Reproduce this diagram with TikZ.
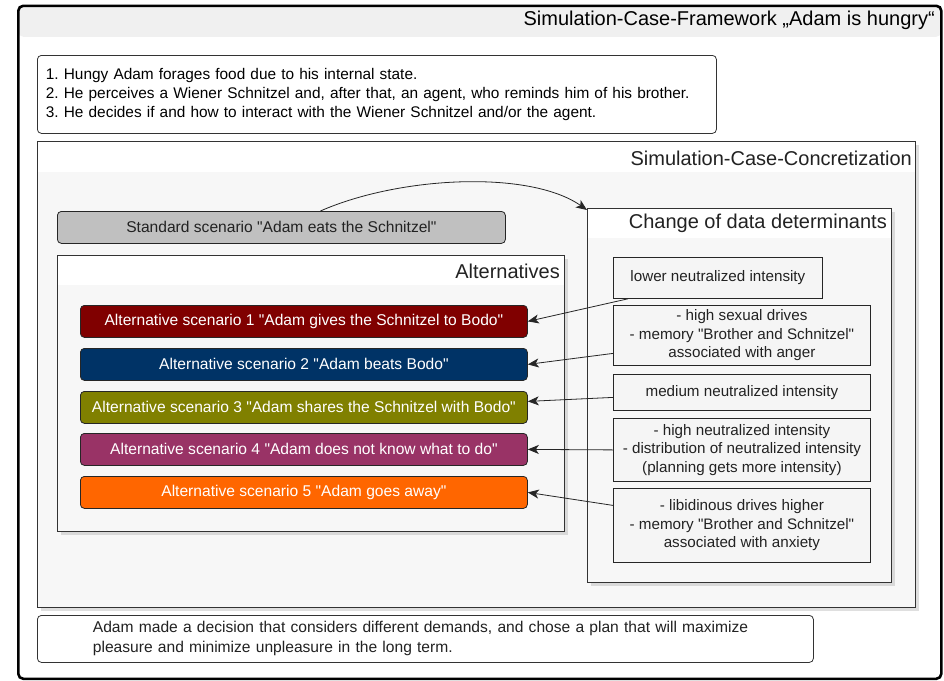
\documentclass[tikz,border=0pt]{standalone}
\usepackage{fontspec}
\setmainfont{Liberation Sans}
\frenchspacing
\usetikzlibrary{positioning,arrows.meta,shadows}
\definecolor{scnred}{HTML}{800000}
\definecolor{scnblue}{HTML}{003366}
\definecolor{scnolive}{HTML}{808000}
\definecolor{scnplum}{HTML}{993366}
\definecolor{scnorange}{HTML}{FF6600}
\definecolor{scngray}{HTML}{C0C0C0}
\definecolor{txt}{HTML}{222222}
\newcommand{\qd}{\textquotedbl}
\tikzset{
  frame/.style    = {draw=black, line width=2.6pt, rounded corners=5pt, anchor=north west, inner sep=0pt,
                     path picture={\fill[black!6] (path picture bounding box.north west) rectangle ([yshift=-31pt]path picture bounding box.north east);}},
  panel/.style    = {draw=black!80, line width=0.8pt, anchor=north west, inner sep=0pt,
                     left color=black!3, middle color=black!14, right color=black!3,
                     drop shadow={opacity=0.25, shadow xshift=4pt, shadow yshift=-4pt},
                     path picture={\fill[white] (path picture bounding box.north west) rectangle ([yshift=-#1]path picture bounding box.north east);}},
  panelhdr/.style = {font=\fontsize{20}{24}\selectfont, text=txt, anchor=east, inner sep=0pt},
  textbox/.style  = {draw=black!80, line width=0.8pt, fill=white, rounded corners=4pt, anchor=north west, inner sep=0pt},
  scenario/.style = {draw=black!85, line width=0.8pt, rounded corners=4pt, fill=#1, text=white, anchor=north west,
                     minimum width=447pt, minimum height=32pt, inner sep=0pt, font=\fontsize{15.6}{18}\selectfont},
  determ/.style   = {draw=black!85, line width=0.8pt, anchor=north west, inner sep=0pt, align=center, text=txt,
                     left color=black!4, middle color=black!12, right color=black!4,
                     font=\fontsize{15.2}{18.5}\selectfont},
  link/.style     = {-{Stealth[length=11pt, width=9pt, inset=3pt]}, draw=black!85, line width=0.8pt},
}

\begin{document}
\begin{tikzpicture}[x=1pt,y=-1pt]
  \useasboundingbox (0,0) rectangle (944,680);

  % outer frame with title band
  \node[frame, minimum width=923pt, minimum height=673pt] (framework) at (17,4.5) {};
  \node[font=\fontsize{20}{24}\selectfont, anchor=east, inner sep=0pt] (fwtitle) at (935,20) {Simulation-Case-Framework „Adam is hungry“};

  % situation steps
  \node[textbox, minimum width=679pt, minimum height=78pt, text width=662pt, align=left,
        font=\fontsize{15.4}{19}\selectfont] (steps) at (37,55)
    {1. Hungy Adam forages food due to his internal state.\\
     2. He perceives a Wiener Schnitzel and, after that, an agent, who reminds him of his brother.\\
     3. He decides if and how to interact with the Wiener Schnitzel and/or the agent.};

  % ---------- concretization ----------
  \node[panel=31pt, minimum width=878pt, minimum height=466pt] (concr) at (37,141) {};
  \node[panelhdr] (concrhdr) at (912,158) {Simulation-Case-Concretization};

  \node[scenario=scngray, text=txt, minimum width=448pt] (std) at (57,211) {Standard scenario \qd Adam eats the Schnitzel\qd};

  % alternatives
  \node[panel=30pt, minimum width=507pt, minimum height=276pt] (alts) at (57,255) {};
  \node[panelhdr] (altshdr) at (560,271) {Alternatives};
  \foreach \n/\c/\t/\y in {%
    1/scnred/{Alternative scenario 1 \qd Adam gives the Schnitzel to Bodo\qd}/305,
    2/scnblue/{Alternative scenario 2 \qd Adam beats Bodo\qd}/348,
    3/scnolive/{Alternative scenario 3 \qd Adam shares the Schnitzel with Bodo\qd}/391,
    4/scnplum/{Alternative scenario 4 \qd Adam does not know what to do\qd}/433,
    5/scnorange/{Alternative scenario 5 \qd Adam goes away\qd}/476}
  {
    \node[scenario=\c] (alt\n) at (80,\y) {\t};
  }

  % data determinants
  \node[panel=30pt, minimum width=304pt, minimum height=374pt] (determ) at (587,208) {};
  \node[panelhdr] (determhdr) at (887,223) {Change of data determinants};
  \node[determ, minimum width=209pt, minimum height=41pt] (det1) at (613,257) {lower neutralized intensity};
  \node[determ, minimum width=257pt, minimum height=60pt] (det2) at (613,305)
    {- high sexual drives\\- memory \qd Brother and Schnitzel\qd\\associated with anger};
  \node[determ, minimum width=257pt, minimum height=36pt] (det3) at (613,374) {medium neutralized intensity};
  \node[determ, minimum width=257pt, minimum height=63pt] (det4) at (613,418)
    {- high neutralized intensity\\- distribution of neutralized intensity\\(planning gets more intensity)};
  \node[determ, minimum width=257pt, minimum height=74pt] (det5) at (613,488)
    {- libidinous drives higher\\- memory \qd Brother and Schnitzel\qd\\associated with anxiety};

  \draw[link] ([xshift=39pt]std.north) .. controls (400,176) and (530,170) .. ([yshift=-2pt]determ.north west);
  \draw[link] ([xshift=15pt]det1.south west) -- (alt1.east);
  \draw[link] ([yshift=-18pt]det2.west) -- (alt2.east);
  \draw[link] ([yshift=-5pt]det3.west) -- ([yshift=6pt]alt3.east);
  \draw[link] (det4.west) -- (alt4.east);
  \draw[link] ([yshift=20pt]det5.west) -- (alt5.east);

  % conclusion
  \node[textbox, minimum width=776pt, minimum height=47pt, text width=665pt, align=left, text=txt,
        font=\fontsize{15.6}{20}\selectfont] (concl) at (37,615)
    {Adam made a decision that considers different demands, and chose a plan that will maximize\\
     pleasure and minimize unpleasure in the long term.};
\end{tikzpicture}
\end{document}
